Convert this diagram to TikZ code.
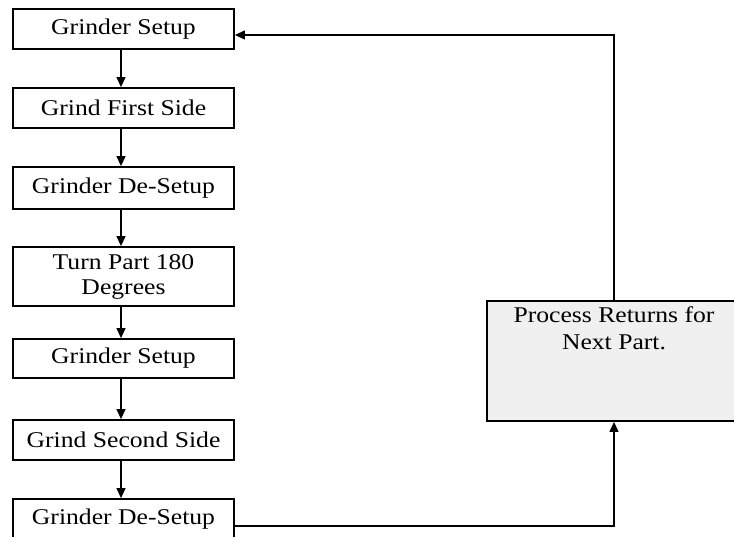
\documentclass[tikz,border=0pt]{standalone}
\usepackage{fontspec}
\setmainfont{Liberation Serif}[FakeStretch=1.14]
\usetikzlibrary{arrows.meta}
\begin{document}
\begin{tikzpicture}[x=1pt,y=-1pt,
  stepbox/.style={draw, line width=1.8pt, minimum width=221pt, inner sep=0pt,
    align=center, font=\fontsize{22.5}{25}\selectfont},
  procbox/.style={draw, line width=1.8pt, fill=black!6, minimum width=254pt,
    minimum height=120pt, inner sep=0pt},
  proctext/.style={anchor=base, inner sep=0pt, font=\fontsize{22.5}{25}\selectfont},
  flow/.style={line width=1.2pt, -{Triangle[length=10pt,width=9pt]}},
  link/.style={line width=1.2pt}]
\useasboundingbox (0,0) rectangle (734,537);
\clip (0,0) rectangle (734,537);

% process steps, top to bottom
\node[stepbox, minimum height=40pt] (s1) at (123.5,29)   {Grinder Setup};
\node[stepbox, minimum height=40pt] (s2) at (123.5,108)  {Grind First Side};
\node[stepbox, minimum height=42pt] (s3) at (123.5,188)  {Grinder De-Setup};
\node[stepbox, minimum height=59pt] (s4) at (123.5,276.5) {Turn Part 180\\Degrees};
\node[stepbox, minimum height=39pt] (s5) at (123.5,358.5) {Grinder Setup};
\node[stepbox, minimum height=40pt] (s6) at (123.5,440)  {Grind Second Side};
\node[stepbox, minimum height=40pt] (s7) at (123.5,519)  {Grinder De-Setup};

% return step
\node[procbox] (p) at (614,361) {};
\node[proctext] (pt1) at (614,323) {Process Returns for};
\node[proctext] (pt2) at (614,350) {Next Part.};

% connectors down the column, slightly left of the box centres
\foreach \a/\b in {s1/s2, s2/s3, s3/s4, s4/s5, s5/s6, s6/s7}
  \draw[flow] ([xshift=-2.5pt]\a.south) -- ([xshift=-2.5pt]\b.north);

\coordinate (b7) at (s7.east |- 0,526);
\coordinate (rt) at (p.north |- 0,35);
\draw[flow] (b7) -| (p.south);
\draw[flow] (p.north) -- (rt) -- (s1.east |- rt);
\end{tikzpicture}
\end{document}
